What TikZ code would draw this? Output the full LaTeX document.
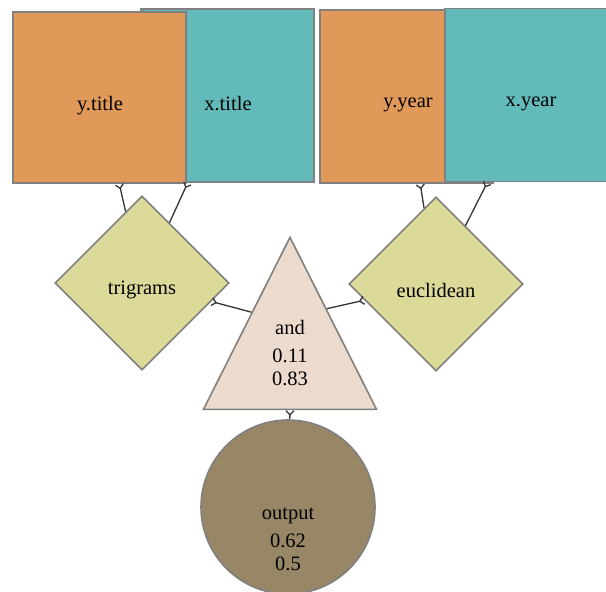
\documentclass[tikz,border=0pt]{standalone}
\usepackage{fontspec}
\setmainfont{Liberation Serif}
\usetikzlibrary{shapes.geometric,arrows.meta,calc}
\definecolor{boxorange}{HTML}{E09958}
\definecolor{boxteal}{HTML}{63BABA}
\definecolor{opfill}{HTML}{DCDA98}
\definecolor{andfill}{HTML}{ECDACC}
\definecolor{outfill}{HTML}{978767}
\definecolor{rim}{HTML}{808080}
\tikzset{
  shapebase/.style={draw=rim, line width=1.6pt, inner sep=0pt},
  feature/.style={shapebase, rectangle, minimum width=173pt, minimum height=173pt},
  opnode/.style={shapebase, diamond, fill=opfill, minimum width=174pt, minimum height=174pt},
  andnode/.style={shapebase, isosceles triangle, shape border rotate=90,
    isosceles triangle stretches, minimum width=173pt, minimum height=172pt, fill=andfill},
  outnode/.style={shapebase, circle, minimum size=174pt, fill=outfill},
  lbl/.style={font=\fontsize{20.5}{23}\selectfont, align=center, inner sep=0pt},
  link/.style={draw=black!80, line width=1.3pt,
    {Straight Barb[reversed,length=4pt,width=8pt]}-}
}
\begin{document}
\begin{tikzpicture}[x=1pt,y=-1pt]
\useasboundingbox (0,0) rectangle (606,592);
\clip (0,0) rectangle (606,592);
% title features
\node[feature, fill=boxteal] (xtitle) at (227.5,95.5) {};
\node[feature, fill=boxorange, minimum height=171pt] (ytitle) at (99.5,97.5) {};
\node[lbl] (xtitletext) at (228,104) {x.title};
\node[lbl] (ytitletext) at (100,106) {y.title};
% year features
\node[feature, fill=boxorange] (yyear) at (406.5,96.5) {};
\node[feature, fill=boxteal] (xyear) at (531.5,95) {};
\node[lbl] (yyeartext) at (408,105) {y.year};
\node[lbl] (xyeartext) at (531,104) {x.year};
% comparison operators
\node[opnode] (trigrams) at (142,283) {};
\node[opnode] (euclidean) at (436,284) {};
\node[lbl] (trigramstext) at (142,289.5) {trigrams};
\node[lbl] (euclideantext) at (436,290) {euclidean};
% combination and output
\node[andnode] (and) at (290,356) {};
\node[lbl] (andtext) at (290,353) {and\\[5pt]0.11\\0.83};
\node[outnode] (output) at (288,507) {};
\node[lbl] (outtext) at (288,539.5) {output\\[5pt]0.62\\0.5};
% connectors
\draw[link] (ytitle) -- (trigrams);
\draw[link] (xtitle) -- (trigrams);
\draw[link] (yyear) -- (euclidean);
\draw[link] (xyear) -- (euclidean);
\draw[link] (trigrams) -- ($(and.apex)!0.44!(and.left corner)$);
\draw[link] (euclidean) -- ($(and.apex)!0.42!(and.right corner)$);
\draw[link] ($(and.left corner)!0.5!(and.right corner)$) -- (output);
\end{tikzpicture}
\end{document}
